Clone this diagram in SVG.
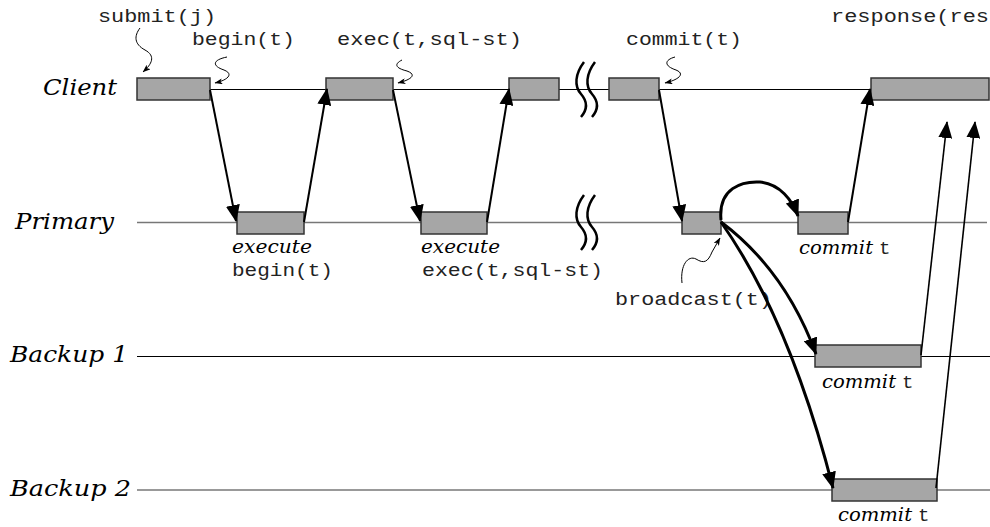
<svg xmlns="http://www.w3.org/2000/svg" width="990" height="527" viewBox="0 0 990 527">
<defs>
<marker id="ah" markerUnits="userSpaceOnUse" markerWidth="17" markerHeight="14" refX="16" refY="7" orient="auto"><path d="M0,0 L17,7 L0,14 z" fill="#000"/></marker>
<marker id="sh" markerUnits="userSpaceOnUse" markerWidth="8" markerHeight="6" refX="7.5" refY="3" orient="auto"><path d="M0,0 L8,3 L0,6 L2,3 z" fill="#000"/></marker>
<style>
.box{fill:#a6a6a6;stroke:#333;stroke-width:1.5}
.lbl{font-family:"DejaVu Serif","Liberation Serif",serif;font-style:italic;font-size:23px;fill:#000}
.it{font-family:"DejaVu Serif","Liberation Serif",serif;font-style:italic;font-size:19px;fill:#000}
.mono{font-family:"Liberation Mono","DejaVu Sans Mono",monospace;font-size:19px;fill:#222}
.arr{fill:none;stroke:#000;stroke-width:2;marker-end:url(#ah)}
.arr3{fill:none;stroke:#000;stroke-width:3;marker-end:url(#ah)}
.arrt{fill:none;stroke:#000;stroke-width:1.6;marker-end:url(#ah)}
.sq{fill:none;stroke:#000;stroke-width:1;marker-end:url(#sh)}
.brk{fill:none;stroke:#000;stroke-width:2.5}
</style>
</defs>
<rect width="990" height="527" fill="#fff"/>

<g id="timelines">
<line x1="137" y1="89.5" x2="987" y2="89.5" stroke="#000" stroke-width="1"/>
<line x1="137" y1="222.5" x2="987" y2="222.5" stroke="#777" stroke-width="1.5"/>
<line x1="137" y1="356.5" x2="990" y2="356.5" stroke="#000" stroke-width="1"/>
<line x1="137" y1="490" x2="990" y2="490" stroke="#777" stroke-width="1.5"/>
</g>

<g id="labels">
<text class="lbl" x="43" y="95" textLength="74" lengthAdjust="spacingAndGlyphs">Client</text>
<text class="lbl" x="15" y="229" textLength="99" lengthAdjust="spacingAndGlyphs">Primary</text>
<text class="lbl" x="10" y="362" textLength="118" lengthAdjust="spacingAndGlyphs">Backup 1</text>
<text class="lbl" x="10" y="496" textLength="121" lengthAdjust="spacingAndGlyphs">Backup 2</text>
</g>

<g id="breaks">
<path class="brk" d="M584,62 C575,74 574,86 581,94 C588,102 587,110 581,117"/>
<path class="brk" d="M595,62 C586,74 585,86 592,94 C599,102 598,110 592,117"/>
<path class="brk" d="M584,195 C575,207 574,219 581,227 C588,235 587,243 581,250"/>
<path class="brk" d="M595,195 C586,207 585,219 592,227 C599,235 598,243 592,250"/>
</g>

<g id="client-boxes">
<rect id="c1" class="box" x="137" y="78" width="73" height="22"/>
<rect id="c2" class="box" x="326" y="78" width="67" height="22"/>
<rect id="c3" class="box" x="509" y="78" width="50" height="22"/>
<rect id="c4" class="box" x="609" y="78" width="50" height="22"/>
<rect id="c5" class="box" x="871" y="78" width="118" height="22"/>
</g>
<g id="primary-boxes">
<rect id="p1" class="box" x="237" y="212" width="67" height="22"/>
<rect id="p2" class="box" x="421" y="212" width="66" height="22"/>
<rect id="p3" class="box" x="682" y="212" width="39" height="22"/>
<rect id="p4" class="box" x="798" y="212" width="50" height="22"/>
</g>
<g id="backup1-box"><rect id="b1" class="box" x="815" y="345" width="106" height="22"/></g>
<g id="backup2-box"><rect id="b2" class="box" x="832" y="479" width="105" height="22"/></g>

<g id="texts">
<text class="mono" x="98" y="22" textLength="118" lengthAdjust="spacingAndGlyphs">submit(j)</text>
<text class="mono" x="192" y="45" textLength="103" lengthAdjust="spacingAndGlyphs">begin(t)</text>
<text class="mono" x="337" y="45" textLength="185" lengthAdjust="spacingAndGlyphs">exec(t,sql-st)</text>
<text class="mono" x="626" y="45" textLength="116" lengthAdjust="spacingAndGlyphs">commit(t)</text>
<text class="mono" x="831" y="22" textLength="158" lengthAdjust="spacingAndGlyphs">response(res</text>
<text class="it" x="232" y="253" textLength="80" lengthAdjust="spacingAndGlyphs">execute</text>
<text class="mono" x="232" y="276" textLength="101" lengthAdjust="spacingAndGlyphs">begin(t)</text>
<text class="it" x="421" y="253" textLength="79" lengthAdjust="spacingAndGlyphs">execute</text>
<text class="mono" x="422" y="276" textLength="181" lengthAdjust="spacingAndGlyphs">exec(t,sql-st)</text>
<text class="mono" x="615" y="305" textLength="157" lengthAdjust="spacingAndGlyphs">broadcast(t)</text>
<text class="it" x="799" y="254" textLength="74" lengthAdjust="spacingAndGlyphs">commit</text>
<text class="mono" x="879" y="254">t</text>
<text class="it" x="822" y="388" textLength="74" lengthAdjust="spacingAndGlyphs">commit</text>
<text class="mono" x="902" y="388">t</text>
<text class="it" x="838" y="521" textLength="74" lengthAdjust="spacingAndGlyphs">commit</text>
<text class="mono" x="918" y="521">t</text>
</g>

<g id="connectors">
<path class="sq" d="M140,28 C134,36 134,44 145,50 C156,56 152,64 143,72"/>
<path class="sq" d="M227,57 C212,60 212,66 224,70 C234,74 228,80 215,83"/>
<path class="sq" d="M402,60 C394,64 395,68 407,71 C418,75 410,80 398,83"/>
<path class="sq" d="M675,57 C664,60 664,66 676,70 C686,74 678,80 665,83"/>
<path class="sq" d="M682,283 C680,265 688,255 696,259 C704,264 708,262 712,252 L720,238"/>
<path class="arr" d="M210,90 L236,221"/>
<path class="arr" d="M304,222 L327,89"/>
<path class="arr" d="M393,90 L420,221"/>
<path class="arr" d="M487,222 L509,89"/>
<path class="arr" d="M659,90 L682,221"/>
<path class="arr" d="M848,222 L870,89"/>
<path class="arr3" d="M721,220 C718,188 742,181 760,182 C780,184 792,200 798,216"/>
<path class="arr3" d="M721,222 Q785,270 816,354"/>
<path class="arr3" d="M721,222 Q790,320 833,488"/>
<path class="arrt" d="M921,355 L947,122"/>
<path class="arrt" d="M936,488 L975,122"/>
</g>
</svg>
